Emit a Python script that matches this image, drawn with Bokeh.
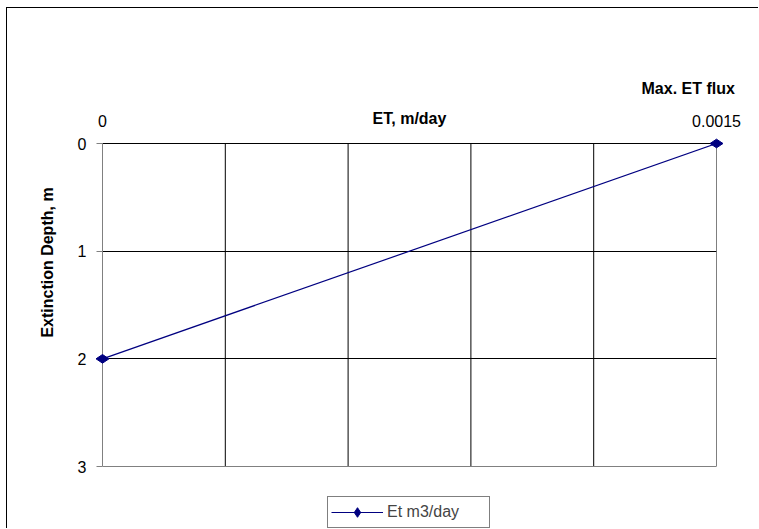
import math
from bokeh.plotting import figure
from bokeh.models import (Range1d, FixedTicker, Grid, Legend, LegendItem)
from bokeh.core.properties import value
from bokeh.embed import file_html
from bokeh.resources import INLINE

# data
et_flux = [0.0, 0.0015]          # ET, m/day
depth = [2.0, 0.0]               # Extinction depth, m
x_ticks = [0.0, 0.0015]
x_grid = [0.0003, 0.0006, 0.0009, 0.0012, 0.0015]
y_ticks = [0, 1, 2, 3]
y_grid = [0, 1, 2]
series_name = "Et m3/day"
x_title = "ET, m/day"
y_title = "Extinction Depth, m"
flux_note = "Max. ET flux"

FONT = "Liberation Sans"
Y_MIN, Y_MAX = y_ticks[0], y_ticks[-1]
X_MIN, X_MAX = x_ticks[0], x_ticks[-1]
FRAME_W, FRAME_H = 614, 323
PX_Y = FRAME_H / (Y_MAX - Y_MIN)      # pixels per metre
PX_X = FRAME_W / (X_MAX - X_MIN)      # pixels per m/day
# frame runs below the last tick so the legend can sit under the plot area
Y_BOTTOM = Y_MAX + 63 / PX_Y

p = figure(width=752, height=521, output_backend="svg", toolbar_location=None,
           x_range=Range1d(X_MIN, X_MAX), y_range=Range1d(Y_BOTTOM, Y_MIN),
           x_axis_location="above",
           min_border_left=95, min_border_top=135, min_border_right=43, min_border_bottom=0)
p.styles = {"border-left": "1px solid black", "border-top": "1px solid black",
            "margin-left": "6px", "margin-top": "7px"}
p.outline_line_color = None
p.background_fill_color = "white"
p.border_fill_color = "white"

# top x axis
xa = p.xaxis[0]
xa.ticker = FixedTicker(ticks=x_ticks)
xa.major_label_overrides = {0: "0", 0.0015: "0.0015"}
xa.major_tick_in = 0
xa.major_tick_out = 0
xa.minor_tick_in = 0
xa.minor_tick_out = 0
xa.axis_line_color = "black"
xa.major_label_standoff = 17
xa.major_label_text_font = FONT
xa.major_label_text_font_size = "16px"
xa.major_label_text_color = "black"

# left y axis
ya = p.yaxis[0]
ya.ticker = FixedTicker(ticks=y_ticks)
ya.bounds = (Y_MIN, Y_MAX)
ya.axis_line_color = "#808080"
ya.major_tick_line_color = "#808080"
ya.major_tick_in = 0
ya.major_tick_out = 6
ya.minor_tick_in = 0
ya.minor_tick_out = 0
ya.major_label_standoff = 10
ya.major_label_text_font = FONT
ya.major_label_text_font_size = "16px"
ya.major_label_text_color = "black"

# grids
p.xgrid.visible = False
p.ygrid.ticker = FixedTicker(ticks=y_grid)
p.ygrid.grid_line_color = "black"
p.add_layout(Grid(dimension=1, ticker=FixedTicker(ticks=[Y_MAX]), grid_line_color="#808080"))
p.segment(x0=x_grid, y0=[Y_MIN] * len(x_grid), x1=x_grid, y1=[Y_MAX] * len(x_grid),
          line_color="black", line_width=1, level="underlay")

# series
ln = p.line(et_flux, depth, line_color="#000080", line_width=1.2)
mk = p.scatter(et_flux, depth, marker="diamond", size=13, angle=math.pi / 2,
               fill_color="#000080", line_color="#000080", level="overlay")

# titles outside the frame
p.text(x=[(X_MIN + X_MAX) / 2], y=[Y_MIN - 25 / PX_Y], text=[x_title], text_align="center",
       text_baseline="middle", text_font=value(FONT), text_font_style="bold",
       text_font_size="16px", text_color="black", level="overlay")
p.text(x=[X_MAX], y=[Y_MIN - 55 / PX_Y], x_offset=-75, text=[flux_note], text_align="left",
       text_baseline="middle", text_font=value(FONT), text_font_style="bold",
       text_font_size="16px", text_color="black", level="overlay")
p.text(x=[X_MIN - 55 / PX_X], y=[Y_MIN + 119 / PX_Y], text=[y_title], angle=math.pi / 2,
       text_align="center", text_baseline="middle", text_font=value(FONT),
       text_font_style="bold", text_font_size="16px", text_color="black", level="overlay")

legend = Legend(items=[LegendItem(label=series_name, renderers=[ln, mk])],
                location=(225, 1), orientation="horizontal",
                border_line_color="black", border_line_width=1,
                label_text_font=FONT, label_text_font_size="16px",
                glyph_width=52, glyph_height=24, label_standoff=4, label_width=99,
                padding=3, margin=0, spacing=0, background_fill_alpha=1)
p.add_layout(legend, "center")

open("out.html", "w").write(file_html(p, INLINE))
